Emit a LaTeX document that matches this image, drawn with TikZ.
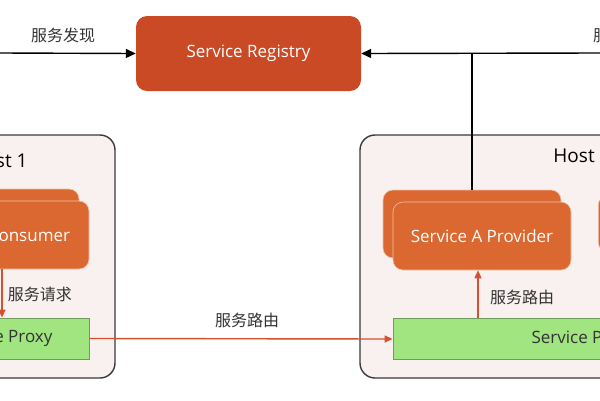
\documentclass[tikz,border=0pt]{standalone}
\usepackage{fontspec}
\setmainfont{Open Sans}
\newfontfamily\cjk{Noto Sans CJK SC}
\usetikzlibrary{arrows.meta}
\definecolor{regred}{HTML}{CB4A26}
\definecolor{provor}{HTML}{DA6830}
\definecolor{provline}{HTML}{F2C2A6}
\definecolor{proxygreen}{HTML}{A0E57F}
\definecolor{proxyline}{HTML}{6F9B5B}
\definecolor{hostfill}{HTML}{F9F1EF}
\definecolor{hostline}{HTML}{3A3A3A}
\definecolor{arrred}{HTML}{D5502E}
\definecolor{txt}{HTML}{333333}
\tikzset{
  hostbox/.style={draw=hostline, line width=1.4pt, fill=hostfill, rounded corners=15pt, minimum width=#1, minimum height=243pt, inner sep=0pt},
  regbox/.style={fill=regred, rounded corners=11pt, minimum width=225pt, minimum height=75pt, text=white, font=\fontsize{17}{20}\selectfont, inner sep=0pt},
  provbox/.style={fill=provor, draw=provline, line width=0.6pt, rounded corners=10pt, minimum width=178pt, minimum height=68pt, text=white, font=\fontsize{17}{20}\selectfont, inner sep=0pt},
  whitetxt/.style={text=white, font=\fontsize{17}{20}\selectfont, inner sep=0pt},
  proxybox/.style={fill=proxygreen, draw=proxyline, line width=0.8pt, minimum width=#1, minimum height=41pt, text=txt, font=\fontsize{17}{20}\selectfont, inner sep=0pt},
  hostlabel/.style={text=black, font=\fontsize{19}{22}\selectfont, inner sep=0pt},
  lbl/.style={text=txt, font=\cjk\fontsize{16}{19}\selectfont, inner sep=0pt},
  blackarr/.style={draw=black, line width=1.4pt, -{Triangle[length=10pt,width=9pt]}},
  blackline/.style={draw=black, line width=1.4pt},
  redarr/.style={draw=arrred, line width=1.4pt, -{Triangle[length=8pt,width=7pt]}}
}
\begin{document}
\begin{tikzpicture}[x=1pt,y=-1pt]
\path[use as bounding box, clip] (0,0) rectangle (600,400);
\fill[white] (0,0) rectangle (600,400);

% hosts
\node[hostbox=230pt] (host1) at (0,256.5) {};
\node[hostbox=440pt] (host2) at (580,256.5) {};
\node[hostlabel] (h1lbl) at (-1,161) {Host 1};
\node[hostlabel] (h2lbl) at (582,156) {Host 2};

% registry
\node[regbox] (reg) at (248.5,53.5) {Service Registry};

% consumer stack
\node[provbox] (consback) at (-10,223) {};
\node[provbox] (cons) at (0,235) {};
\node[whitetxt] (constxt) at (-9,235) {Service A Consumer};

% provider stack
\node[provbox] (provback) at (472,224) {};
\node[provbox] (prov) at (482,236) {Service A Provider};

% other box on right
\node[provbox, anchor=north west, minimum height=57pt] (provB) at (598,195) {};

% proxies
\node[proxybox=178pt] (proxy1) at (0,338.5) {Service Proxy};
\node[proxybox=382pt] (proxy2) at (584,339) {Service Proxy};

% coordinates at frame edges
\coordinate (leftend) at (0,53);
\coordinate (rightend) at (600,53);

% connectors
\draw[blackarr] (leftend) -- (reg.west);
\draw[blackarr] (rightend) -- (reg.east);
\draw[blackline] (provback.north) -- (provback.north |- reg.east);
\draw[redarr] (cons.south -| 2,0) -- (proxy1.north -| 2,0);
\draw[redarr] (proxy1.east) -- (proxy2.west);
\draw[redarr] (proxy2.north -| 478,0) -- (prov.south -| 478,0);

% labels
\node[lbl] (l1) at (63,35) {服务发现};
\node[lbl, anchor=west] (l2) at (593,35) {服务注册};
\node[lbl] (l3) at (40,294) {服务请求};
\node[lbl] (l4) at (247,320) {服务路由};
\node[lbl] (l5) at (522,297) {服务路由};
\end{tikzpicture}
\end{document}
